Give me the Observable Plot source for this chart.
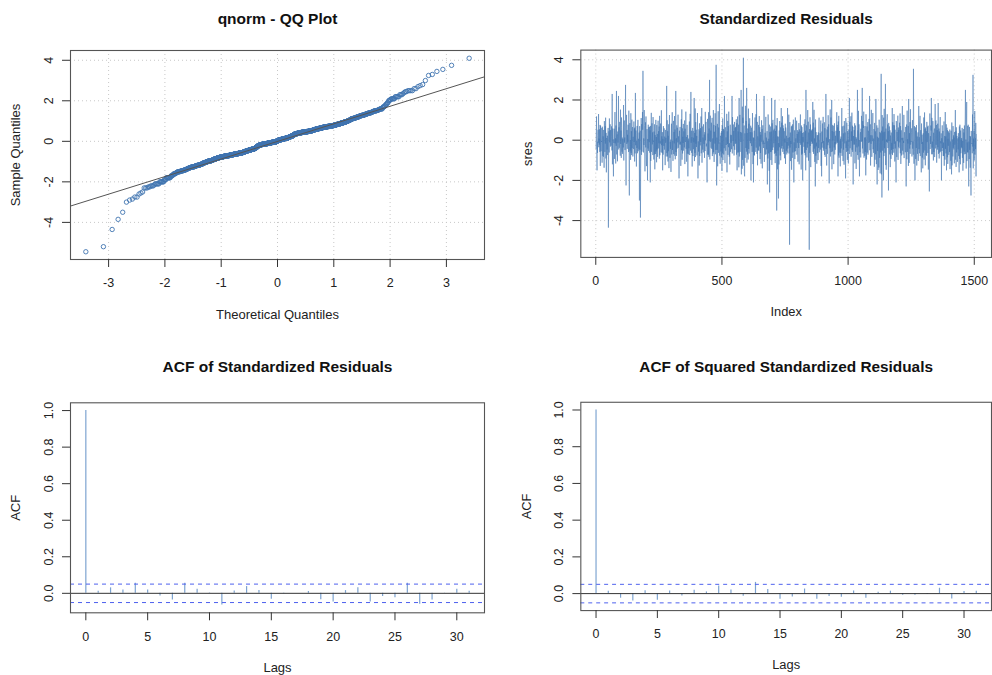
<!DOCTYPE html>
<html><head><meta charset="utf-8">
<script src="https://cdn.jsdelivr.net/npm/d3@7"></script>
<script src="https://cdn.jsdelivr.net/npm/@observablehq/plot@0.6"></script>
<style>
body{margin:0;background:#fff;}
#fig{position:relative;width:992px;height:675px;overflow:hidden;background:#fff;}
#fig > div{position:absolute;}
</style></head><body><div id="fig"></div>
<script>
// Standardized residuals, in hundredths
const sresHundredths = [
-42,35,118,-73,-150,-7,-63,24,52,-13,130,-35,8,-22,54,-58,76,-128,72,12,-55,-4,-9,61,-112,67,3,-78,19,-83,51,-6,-137,95,66,-58,70,-17,112,-91,36,-160,11,5,-47,22,-74,28,61,-435,
-97,44,-61,108,-11,56,79,-32,50,-8,-27,69,18,-51,230,-120,58,-6,-82,-180,4,-14,57,-93,48,140,-16,9,-116,73,-28,245,-71,18,29,-105,43,-12,25,220,-46,64,-38,74,91,-3,-77,152,-19,48,
-88,113,63,-57,13,-68,6,-5,-36,175,-101,42,98,-12,13,-49,71,275,-30,-225,54,126,-19,51,-43,27,-11,77,-2,-59,147,-76,-275,29,85,-52,1,-98,134,-63,45,-74,102,-39,60,65,-81,17,-44,7,
93,-9,58,-106,63,-66,235,-25,48,15,-131,-3,-39,71,-65,26,101,-55,7,-12,-46,38,-300,70,-48,47,-385,-142,-14,110,-73,80,-57,21,140,52,345,128,-61,9,-24,150,73,-7,-155,41,89,-36,118,-70,
-129,-6,55,-16,-200,6,-41,77,-53,64,16,-10,67,-62,49,-210,71,-103,25,136,-58,10,84,-21,39,-74,115,-8,-2,-96,43,-71,79,-145,26,3,-69,101,-56,16,-110,75,-46,31,-83,30,97,-41,45,-15,
68,-92,121,-75,-4,-17,83,53,-60,149,-25,19,-64,40,-150,7,-72,70,-15,-28,59,-47,18,7,-124,51,-13,12,-81,62,270,-64,99,-81,45,-106,22,-55,79,-139,46,125,-20,-88,-8,-43,3,-158,31,82,
-71,49,139,-49,-3,-103,73,96,-69,41,-16,120,-77,53,-95,8,245,-59,10,-78,74,-42,62,14,-11,127,-38,19,-13,-190,23,47,-21,66,-22,-7,-128,11,104,-50,153,-97,59,-66,17,-14,81,-52,44,9,
-36,98,-119,57,-9,-5,142,-43,16,-107,28,76,-67,25,-180,-2,-70,8,-40,50,93,-74,12,131,-52,68,240,-13,47,-63,15,-131,-14,61,-79,46,-45,12,-11,210,-104,36,-63,158,-84,90,-18,52,-34,21,
-76,43,135,-15,-190,-6,-57,9,54,-126,84,-79,47,-26,60,-9,118,-65,-13,160,-112,68,17,-47,13,-61,79,-4,-20,28,-88,40,-54,141,-1,75,91,-31,-17,-44,-210,50,106,-72,33,-72,139,-83,58,-5,
300,-96,47,122,-8,48,-38,87,65,-44,111,-79,-3,9,-67,150,-59,76,-108,42,7,-17,134,-70,71,-49,375,52,-225,13,-48,81,-130,21,144,-63,63,-17,25,180,-77,-12,-117,22,12,-56,37,-85,46,-153,
73,-65,108,-99,-5,56,-71,49,-40,220,15,-114,52,64,-52,14,-24,-9,131,-160,44,-19,96,-73,70,-35,142,8,-82,-15,-121,1,77,-58,27,-13,25,-45,49,220,-66,115,58,-4,78,-30,46,-76,39,91,
-48,61,-18,66,-7,-16,104,-72,85,-150,47,118,-62,43,-60,77,-135,210,-81,-2,126,-58,41,20,-9,250,-170,38,-12,-142,167,-98,112,85,410,-127,52,73,-165,-180,34,-88,171,48,-39,95,-57,260,-112,36,
-71,58,50,-96,157,-44,82,-66,69,109,-4,40,-15,72,-200,-10,62,-29,39,-58,135,6,-119,14,-210,11,-73,47,-76,80,113,-1,-6,-58,129,-37,230,44,-68,91,-125,19,6,-49,76,-53,38,120,-31,65,
-94,41,-64,27,-117,10,99,-8,55,-140,47,74,-20,-3,-39,62,220,-108,-13,-17,37,-72,67,116,-70,13,-46,12,45,-220,-5,-91,128,72,-66,7,-152,77,-260,40,15,-59,68,-99,43,-57,210,-123,84,16,
-49,101,-36,-6,49,-15,57,-67,93,200,-114,46,-63,75,-78,71,-350,38,110,-145,19,-52,17,-290,-14,-121,48,-35,95,11,-76,64,-100,-2,160,-41,87,-29,3,119,-58,74,-43,59,36,-69,45,-90,8,-12,
82,-118,63,44,-53,22,-71,-9,-62,160,-42,11,-27,51,127,-66,15,-520,90,-37,38,-104,-4,-19,68,-147,72,43,-88,79,-61,18,102,-66,-210,-11,-57,49,-94,4,113,-55,9,-39,24,97,-72,31,-13,50,
-107,-5,42,-39,85,-120,54,9,-14,59,128,-23,45,-146,73,-72,65,-67,36,-200,16,-11,-1,39,-33,81,-63,12,104,-75,47,-150,250,-49,74,60,-86,-8,-37,150,-18,92,-102,38,3,-545,55,-63,114,-29,
78,-134,48,45,-7,49,-19,56,-15,190,-58,87,-68,71,151,-42,9,-108,63,-230,103,-77,40,-31,-12,-117,24,14,-64,26,-99,39,-39,76,112,-60,-3,-5,35,-47,78,98,-128,-10,-180,43,-37,83,-15,30,
116,-52,-4,-41,41,89,-73,60,-83,-13,-10,230,-44,13,-126,53,48,-68,67,-25,124,-11,79,-65,-215,-6,5,-40,153,-81,17,113,-59,26,200,-145,46,-56,76,-2,71,9,-119,42,-36,84,-71,-9,-48,22,
-21,47,-16,48,139,-7,76,-13,64,-180,93,-76,121,-87,15,46,-62,-2,-130,7,-63,18,-41,40,160,-78,69,-9,-11,-104,34,-47,72,-122,95,51,-16,38,-73,-190,110,-39,-5,-58,87,23,-98,45,-54,3,
-116,39,52,-8,210,-69,91,-40,-14,58,119,-82,44,-3,137,-48,72,-58,66,-220,21,-4,-22,50,-21,84,-115,38,73,-57,16,-143,8,-12,-36,61,250,-74,49,-97,146,-31,79,-20,-180,1,-60,26,40,-86,
57,-8,121,49,-6,260,-41,95,-66,74,61,142,-87,-15,13,-78,70,-59,14,-175,129,46,-96,-3,68,-62,18,90,-72,47,33,-14,106,-10,220,-50,39,79,-126,25,-18,151,44,-83,24,-5,72,135,-45,8,
-63,55,50,-132,86,-7,-97,44,-70,205,71,-119,40,74,-220,17,-54,62,-148,-2,12,-136,102,-12,-88,41,-165,35,-61,80,330,-170,47,-285,125,-52,68,-1,39,-200,112,-79,156,-40,42,-63,91,280,-124,58,
-147,3,-9,57,129,-12,78,-39,45,-250,86,-4,62,68,-71,49,-134,23,14,-93,38,-48,-13,-67,160,-74,89,-44,75,9,-62,130,-18,74,-106,52,-41,-6,-59,-210,95,63,-84,41,-5,18,122,-98,63,-33,
51,-40,45,87,-11,133,-65,70,-118,48,49,-76,11,2,170,-52,12,-71,-3,-14,126,-89,40,38,-7,-15,-60,66,-50,-230,27,78,-95,147,-58,5,-17,71,-128,205,48,-113,35,-42,90,-68,154,-22,-5,-9,
37,59,-81,54,100,-42,-6,-72,355,85,-117,43,70,-56,-200,8,64,-94,47,-39,75,-126,-11,18,-68,16,39,-103,-2,170,-45,15,-65,76,121,-79,42,50,-14,-160,83,-19,27,-87,-8,-140,6,34,-62,113,
-96,47,138,-51,56,-125,63,16,-74,45,-78,91,-10,-4,67,-64,72,-146,35,2,-88,-255,-13,133,-44,20,-19,73,48,210,-70,111,-37,-7,-70,95,14,-101,37,-59,42,58,-84,-1,180,-41,31,98,-23,76,
-112,-9,50,-47,82,-35,185,-68,4,58,-91,43,-62,65,115,-57,-5,-16,34,-200,10,-54,74,-39,9,46,-78,-12,-79,93,-127,-3,21,-97,140,-43,18,-66,79,-150,12,62,-85,50,-118,7,-28,44,-73,36,
7,-59,53,-144,-6,-19,-102,47,-63,-170,88,-125,4,-10,-81,70,-38,24,-46,13,-115,41,-22,-2,150,-97,44,-133,64,-61,21,-14,-108,-13,9,-46,35,-79,16,-160,68,-93,77,58,-120,48,-65,2,-35,11,
-40,61,-88,-4,-152,44,55,-113,38,-57,73,-70,41,105,250,-68,3,-141,86,190,-104,-11,-60,71,-61,77,-76,-230,-7,-94,66,-48,21,-137,18,-78,-275,46,12,-19,-15,-65,128,-32,325,-140,8,-55,46,-101,
37,145,-72,10,-44,86,-180,29
];
const sres = sresHundredths.map(v => v / 100);

// ACF values
const acfLags = [0,1,2,3,4,5,6,7,8,9,10,11,12,13,14,15,16,17,18,19,20,21,22,23,24,25,26,27,28,29,30,31];
const acfStd = [1.0,0.011,0.030,0.018,0.055,0.018,-0.015,-0.037,0.055,0.022,0.002,-0.064,0.013,0.037,0.016,-0.033,-0.003,0.001,0.010,-0.035,-0.048,0.015,0.030,-0.048,-0.018,-0.024,0.055,-0.060,-0.037,0.001,0.022,0.011];
const acfSq = [1.0,0.013,-0.025,-0.040,0.016,-0.036,0.014,-0.013,0.018,0.009,0.042,0.020,-0.014,0.061,0.023,-0.031,-0.018,0.025,-0.031,-0.016,-0.020,0.014,-0.025,0.007,0.013,-0.009,-0.009,-0.005,0.029,-0.029,0.011,0.013];

// Tick labels
const qqXTicks = [-3,-2,-1,0,1,2,3];
const resYTicks = [-4,-2,0,2,4];
const resXTicks = [0,500,1000,1500];
const acfXTicks = [0,5,10,15,20,25,30];
const acfYTicks = [0,0.2,0.4,0.6,0.8,1.0];

// Titles
const titles = ["qnorm - QQ Plot","Standardized Residuals","ACF of Standardized Residuals","ACF of Squared Standardized Residuals"];

// ---- helpers ----
function qnorm(p){
  const a=[-3.969683028665376e+01,2.209460984245205e+02,-2.759285104469687e+02,1.383577518672690e+02,-3.066479806614716e+01,2.506628277459239e+00];
  const b=[-5.447609879822406e+01,1.615858368580409e+02,-1.556989798598866e+02,6.680131188771972e+01,-1.328068155288572e+01];
  const c=[-7.784894002430293e-03,-3.223964580411365e-01,-2.400758277161838e+00,-2.549732539343734e+00,4.374664141464968e+00,2.938163982698783e+00];
  const d=[7.784695709041462e-03,3.224671290700398e-01,2.445134137142996e+00,3.754408661907416e+00];
  const pl=0.02425, ph=1-pl; let q,r;
  if(p<pl){q=Math.sqrt(-2*Math.log(p));return (((((c[0]*q+c[1])*q+c[2])*q+c[3])*q+c[4])*q+c[5])/((((d[0]*q+d[1])*q+d[2])*q+d[3])*q+1);}
  if(p>ph){q=Math.sqrt(-2*Math.log(1-p));return -(((((c[0]*q+c[1])*q+c[2])*q+c[3])*q+c[4])*q+c[5])/((((d[0]*q+d[1])*q+d[2])*q+d[3])*q+1);}
  q=p-0.5;r=q*q;return (((((a[0]*r+a[1])*r+a[2])*r+a[3])*r+a[4])*r+a[5])*q/(((((b[0]*r+b[1])*r+b[2])*r+b[3])*r+b[4])*r+1);
}
function pad4([lo,hi]){const e=(hi-lo)*0.04;return [lo-e,hi+e];}

const n = sres.length;
const sorted = sres.slice().sort(d3.ascending);
const qq = sorted.map((y,i)=>({x: qnorm((i+0.5)/n), y}));
const q1 = d3.quantile(sorted,0.25), q3 = d3.quantile(sorted,0.75);
const z1 = qnorm(0.25), z3 = qnorm(0.75);
const slope = (q3-q1)/(z3-z1), icpt = q1 - slope*z1;
const qqX = pad4(d3.extent(qq, d=>d.x));
const resY = pad4(d3.extent(sres));
const qqLine = qqX.map(x=>({x, y: icpt + slope*x}));
const bound = 1.96/Math.sqrt(n);
const acfStdData = acfLags.map((l,i)=>({lag:l, v:acfStd[i]}));
const acfSqData = acfLags.map((l,i)=>({lag:l, v:acfSq[i]}));
const acfX = pad4([0, d3.max(acfLags)]);
const acfStdY = pad4([Math.min(d3.min(acfStd), -bound), Math.max(d3.max(acfStd), bound)]);
const acfSqY = pad4([Math.min(d3.min(acfSq), -bound), Math.max(d3.max(acfSq), bound)]);

const FONT = '"Liberation Sans", Arial, Helvetica, sans-serif';
const BLUE = "#3f74b0";
const fmtPlain = d => String(d).replace("\u2212","-");
const fmt1 = d => d.toFixed(1);

function panel(o){
  const svg = Plot.plot({
    width: o.width, height: o.height,
    marginTop: o.m[0], marginRight: o.m[1], marginBottom: o.m[2], marginLeft: o.m[3],
    x: {domain: o.x}, y: {domain: o.y},
    style: {fontFamily: FONT, fontSize: "12.5px", color: "#222", background: "transparent", overflow: "visible"},
    marks: [
      ...o.marks,
      Plot.frame({stroke: "#555", strokeWidth: 1.1}),
      Plot.axisX({ticks: o.xTicks, tickSize: 8, tickPadding: 11, label: null, tickFormat: fmtPlain, stroke: "#333"}),
      Plot.axisY({ticks: o.yTicks, tickSize: 8, tickPadding: 10, tickRotate: -90, label: null, tickFormat: o.yFormat, stroke: "#333"}),
      Plot.text([o.title], {text: d=>d, frameAnchor: "top", textAnchor: "middle", lineAnchor: "middle", dy: o.titleDy, fontWeight: "bold", fontSize: 15.5, fill: "#111"}),
      Plot.text([o.xLabel], {text: d=>d, frameAnchor: "bottom", textAnchor: "middle", lineAnchor: "middle", dy: o.xLabelDy, fontSize: 13, fill: "#222"}),
      Plot.text([o.yLabel], {text: d=>d, frameAnchor: "left", textAnchor: "middle", lineAnchor: "middle", rotate: -90, dx: o.yLabelDx, fontSize: 13, fill: "#222"})
    ]
  });
  const div = document.createElement("div");
  div.style.left = o.left + "px"; div.style.top = o.top + "px";
  div.appendChild(svg);
  document.getElementById("fig").appendChild(div);
}

const gridStyle = {stroke: "#c8c8c8", strokeDasharray: "1,3", strokeWidth: 1};

// Panel 1: QQ plot
panel({
  left: 0, top: 0, width: 496, height: 337, m: [50, 12, 78, 70],
  x: qqX, y: resY, xTicks: qqXTicks, yTicks: resYTicks, yFormat: fmtPlain,
  title: titles[0], titleDy: -31.5, xLabel: "Theoretical Quantiles", xLabelDy: 55, yLabel: "Sample Quantiles", yLabelDx: -54.5,
  marks: [
    Plot.ruleX(qqXTicks, gridStyle),
    Plot.ruleY(resYTicks, gridStyle),
    Plot.dot(qq, {x: "x", y: "y", r: 2.2, stroke: BLUE, strokeWidth: 0.9, fill: "none"}),
    Plot.line(qqLine, {x: "x", y: "y", stroke: "#555", strokeWidth: 1})
  ]
});

// Panel 2: residual series
panel({
  left: 496, top: 0, width: 500, height: 337, m: [50, 1, 78, 85],
  x: pad4([1, n]), y: resY, xTicks: resXTicks, yTicks: resYTicks, yFormat: fmtPlain,
  title: titles[1], titleDy: -31.5, xLabel: "Index", xLabelDy: 55, yLabel: "sres", yLabelDx: -53,
  marks: [
    Plot.ruleX(resXTicks, gridStyle),
    Plot.ruleY(resYTicks, gridStyle),
    Plot.line(sres, {x: (d,i)=>i+1, y: d=>d, stroke: BLUE, strokeOpacity: 0.6, strokeWidth: 0.9})
  ]
});

function acfMarks(data){
  return [
    Plot.ruleX(data, {x: "lag", y1: 0, y2: "v", stroke: "#5d8cc4", strokeOpacity: 0.8, strokeWidth: 1.2}),
    Plot.ruleY([0], {stroke: "#333", strokeWidth: 1}),
    Plot.ruleY([bound, -bound], {stroke: "#4d60ee", strokeDasharray: "4,4", strokeWidth: 1})
  ];
}

// Panel 3
panel({
  left: 0, top: 337, width: 496, height: 338, m: [65.3, 12, 62.7, 70],
  x: acfX, y: acfStdY, xTicks: acfXTicks, yTicks: acfYTicks, yFormat: fmt1,
  title: titles[2], titleDy: -35.3, xLabel: "Lags", xLabelDy: 54.6, yLabel: "ACF", yLabelDx: -54.5,
  marks: acfMarks(acfStdData)
});

// Panel 4
panel({
  left: 496, top: 337, width: 500, height: 338, m: [65.3, 1, 62.7, 85],
  x: acfX, y: acfSqY, xTicks: acfXTicks, yTicks: acfYTicks, yFormat: fmt1,
  title: titles[3], titleDy: -35.3, xLabel: "Lags", xLabelDy: 54.6, yLabel: "ACF", yLabelDx: -54,
  marks: acfMarks(acfSqData)
});
</script></body></html>
